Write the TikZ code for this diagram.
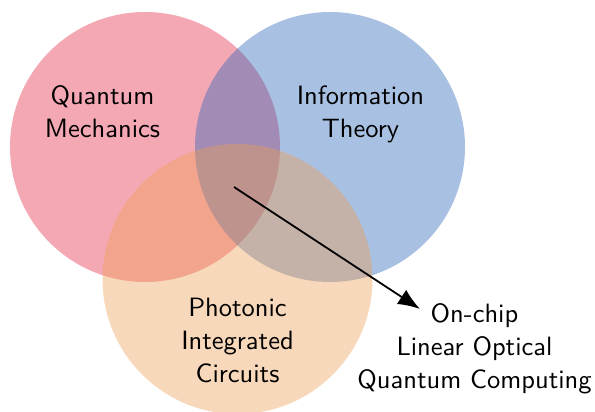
\documentclass[tikz,border=0pt]{standalone}
\usetikzlibrary{arrows.meta}
\definecolor{qmred}{RGB}{228,38,68}
\definecolor{itblue}{RGB}{38,98,183}
\definecolor{picorange}{RGB}{238,158,83}
\begin{document}
\begin{tikzpicture}[x=1pt,y=-1pt,
  venn/.style={circle,minimum size=270pt,inner sep=0pt,fill opacity=0.4,draw=none},
  lbl/.style={align=center,font=\sffamily\fontsize{10}{12.45}\selectfont,inner sep=0pt,scale=2.65},
  arr/.style={line width=1.8pt,-{Latex[length=22pt,width=17pt]}}]
\useasboundingbox (0,0) rectangle (595,412);
\node[venn,fill=qmred] (qm) at (145,147) {};
\node[venn,fill=itblue] (it) at (330,147) {};
\node[venn,fill=picorange] (pic) at (237.5,279) {};
\node[lbl] (qmt) at (102.5,112) {Quantum\\Mechanics};
\node[lbl] (itt) at (360.5,114.5) {Information\\Theory};
\node[lbl] (pict) at (237.5,340) {Photonic\\Integrated\\Circuits};
\node[lbl] (out) at (474.5,349) {On-chip\\Linear Optical\\Quantum Computing};
\coordinate (start) at (234,187);
\coordinate (tip) at (420,309);
\draw[arr] (start) -- (tip);
\end{tikzpicture}
\end{document}
